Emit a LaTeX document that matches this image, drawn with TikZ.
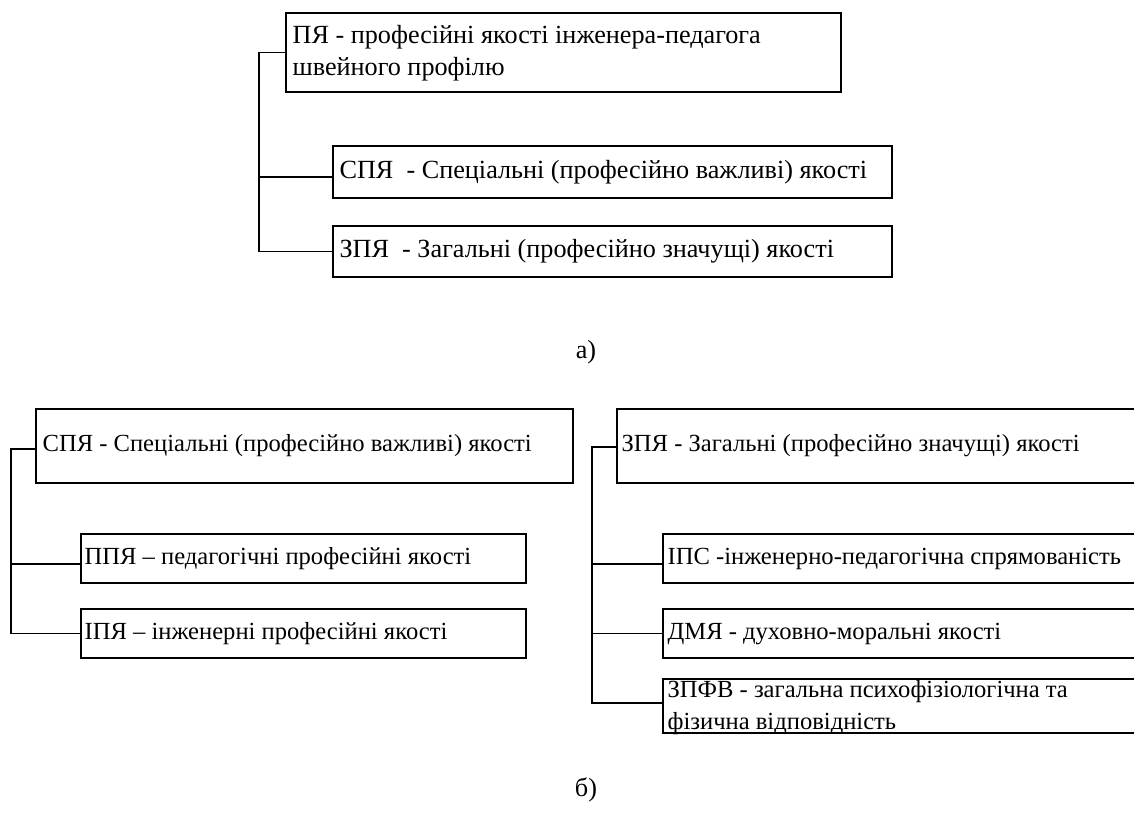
\documentclass[tikz,border=0pt]{standalone}
\usepackage{fontspec}
\setmainfont{Liberation Serif}
\newfontfamily\myserif{Liberation Serif}
\newcommand\myfonttop{\myserif\fontsize{26.2}{32}\selectfont}
\newcommand\myfontbot{\myserif\fontsize{24.6}{29}\selectfont}
\newcommand\myfontzp{\myserif\fontsize{24.6}{32}\selectfont}
\tikzset{
  box/.style={draw, rectangle, line width=1.2pt, inner sep=0pt},
  txt/.style={inner sep=0pt, anchor=west, align=left},
  conn/.style={line width=1.2pt},
}
\begin{document}
\begin{tikzpicture}[x=1pt,y=-1pt]
\clip (0,0) rectangle (1134,814);
\fill[white] (0,0) rectangle (1134,814);
% ---- a) ----
\node[box, minimum width=555pt, minimum height=79pt] (py) at (563.5,52.5) {};
\node[box, minimum width=559pt, minimum height=52pt] (spy) at (612.5,172) {};
\node[box, minimum width=559pt, minimum height=51pt] (zpy) at (612.5,251.5) {};
\node[txt, font=\myfonttop] (pyt) at ([xshift=7pt,yshift=-1pt]py.west) {ПЯ - професійні якості інженера-педагога\\швейного профілю};
\node[txt, font=\myfonttop] (spyt) at ([xshift=7pt]spy.west) {СПЯ~ - Спеціальні (професійно важливі) якості};
\node[txt, font=\myfonttop] (zpyt) at ([xshift=7pt]zpy.west) {ЗПЯ~ - Загальні (професійно значущі) якості};
\coordinate (ta) at (259,52.5);
\coordinate (spyc) at ([yshift=-5pt]spy.west);
\draw[conn] (py.west) -- (ta) |- (zpy.west);
\draw[conn] (ta |- spyc) -- (spyc);
\node[font=\myfonttop] (la) at (586,352) {а)};
% ---- b) left ----
\node[box, minimum width=537pt, minimum height=74pt] (spyb) at (304.5,446) {};
\node[box, minimum width=445pt, minimum height=49pt] (ppy) at (303.5,558.5) {};
\node[box, minimum width=445pt, minimum height=49pt] (ipy) at (303.5,633.5) {};
\node[txt, font=\myfontbot] (spybt) at ([xshift=7pt]spyb.west) {СПЯ - Спеціальні (професійно важливі) якості};
\node[txt, font=\myfontbot] (ppyt) at ([xshift=4pt]ppy.west) {ППЯ – педагогічні професійні якості};
\node[txt, font=\myfontbot] (ipyt) at ([xshift=4pt]ipy.west) {ІПЯ – інженерні професійні якості};
\coordinate (tb) at (11,449);
\coordinate (spybc) at ([yshift=-3pt]spyb.west);
\coordinate (ppyc) at ([yshift=-5.5pt]ppy.west);
\draw[conn] (spybc) -- (tb) |- (ipy.west);
\draw[conn] (tb |- ppyc) -- (ppyc);
% ---- b) right ----
\node[box, minimum width=533pt, minimum height=74pt] (zpyb) at (883.5,446) {};
\node[box, minimum width=487pt, minimum height=49pt] (ips) at (906.5,558.5) {};
\node[box, minimum width=487pt, minimum height=49pt] (dmy) at (906.5,633.5) {};
\node[box, minimum width=487pt, minimum height=54pt] (zpfv) at (906.5,706) {};
\node[txt, font=\myfontbot] (zpybt) at ([xshift=5pt]zpyb.west) {ЗПЯ - Загальні (професійно значущі) якості};
\node[txt, font=\myfontbot] (ipst) at ([xshift=5pt]ips.west) {ІПС -інженерно-педагогічна спрямованість};
\node[txt, font=\myfontbot] (dmyt) at ([xshift=5pt]dmy.west) {ДМЯ - духовно-моральні якості};
\node[txt, font=\myfontzp] (zpfvt) at ([xshift=5pt,yshift=-2pt]zpfv.west) {ЗПФВ - загальна психофізіологічна та\\фізична відповідність};
\coordinate (tc) at (592,447);
\coordinate (zpybc) at ([yshift=-1pt]zpyb.west);
\coordinate (ipsc) at ([yshift=-5.5pt]ips.west);
\coordinate (zpfvc) at ([yshift=3pt]zpfv.west);
\draw[conn] (zpybc) -- (tc) |- (zpfvc);
\draw[conn] (tc |- ipsc) -- (ipsc);
\draw[conn] (tc |- dmy.west) -- (dmy.west);
\node[font=\myfonttop] (lb) at (586,790) {б)};
\end{tikzpicture}
\end{document}
